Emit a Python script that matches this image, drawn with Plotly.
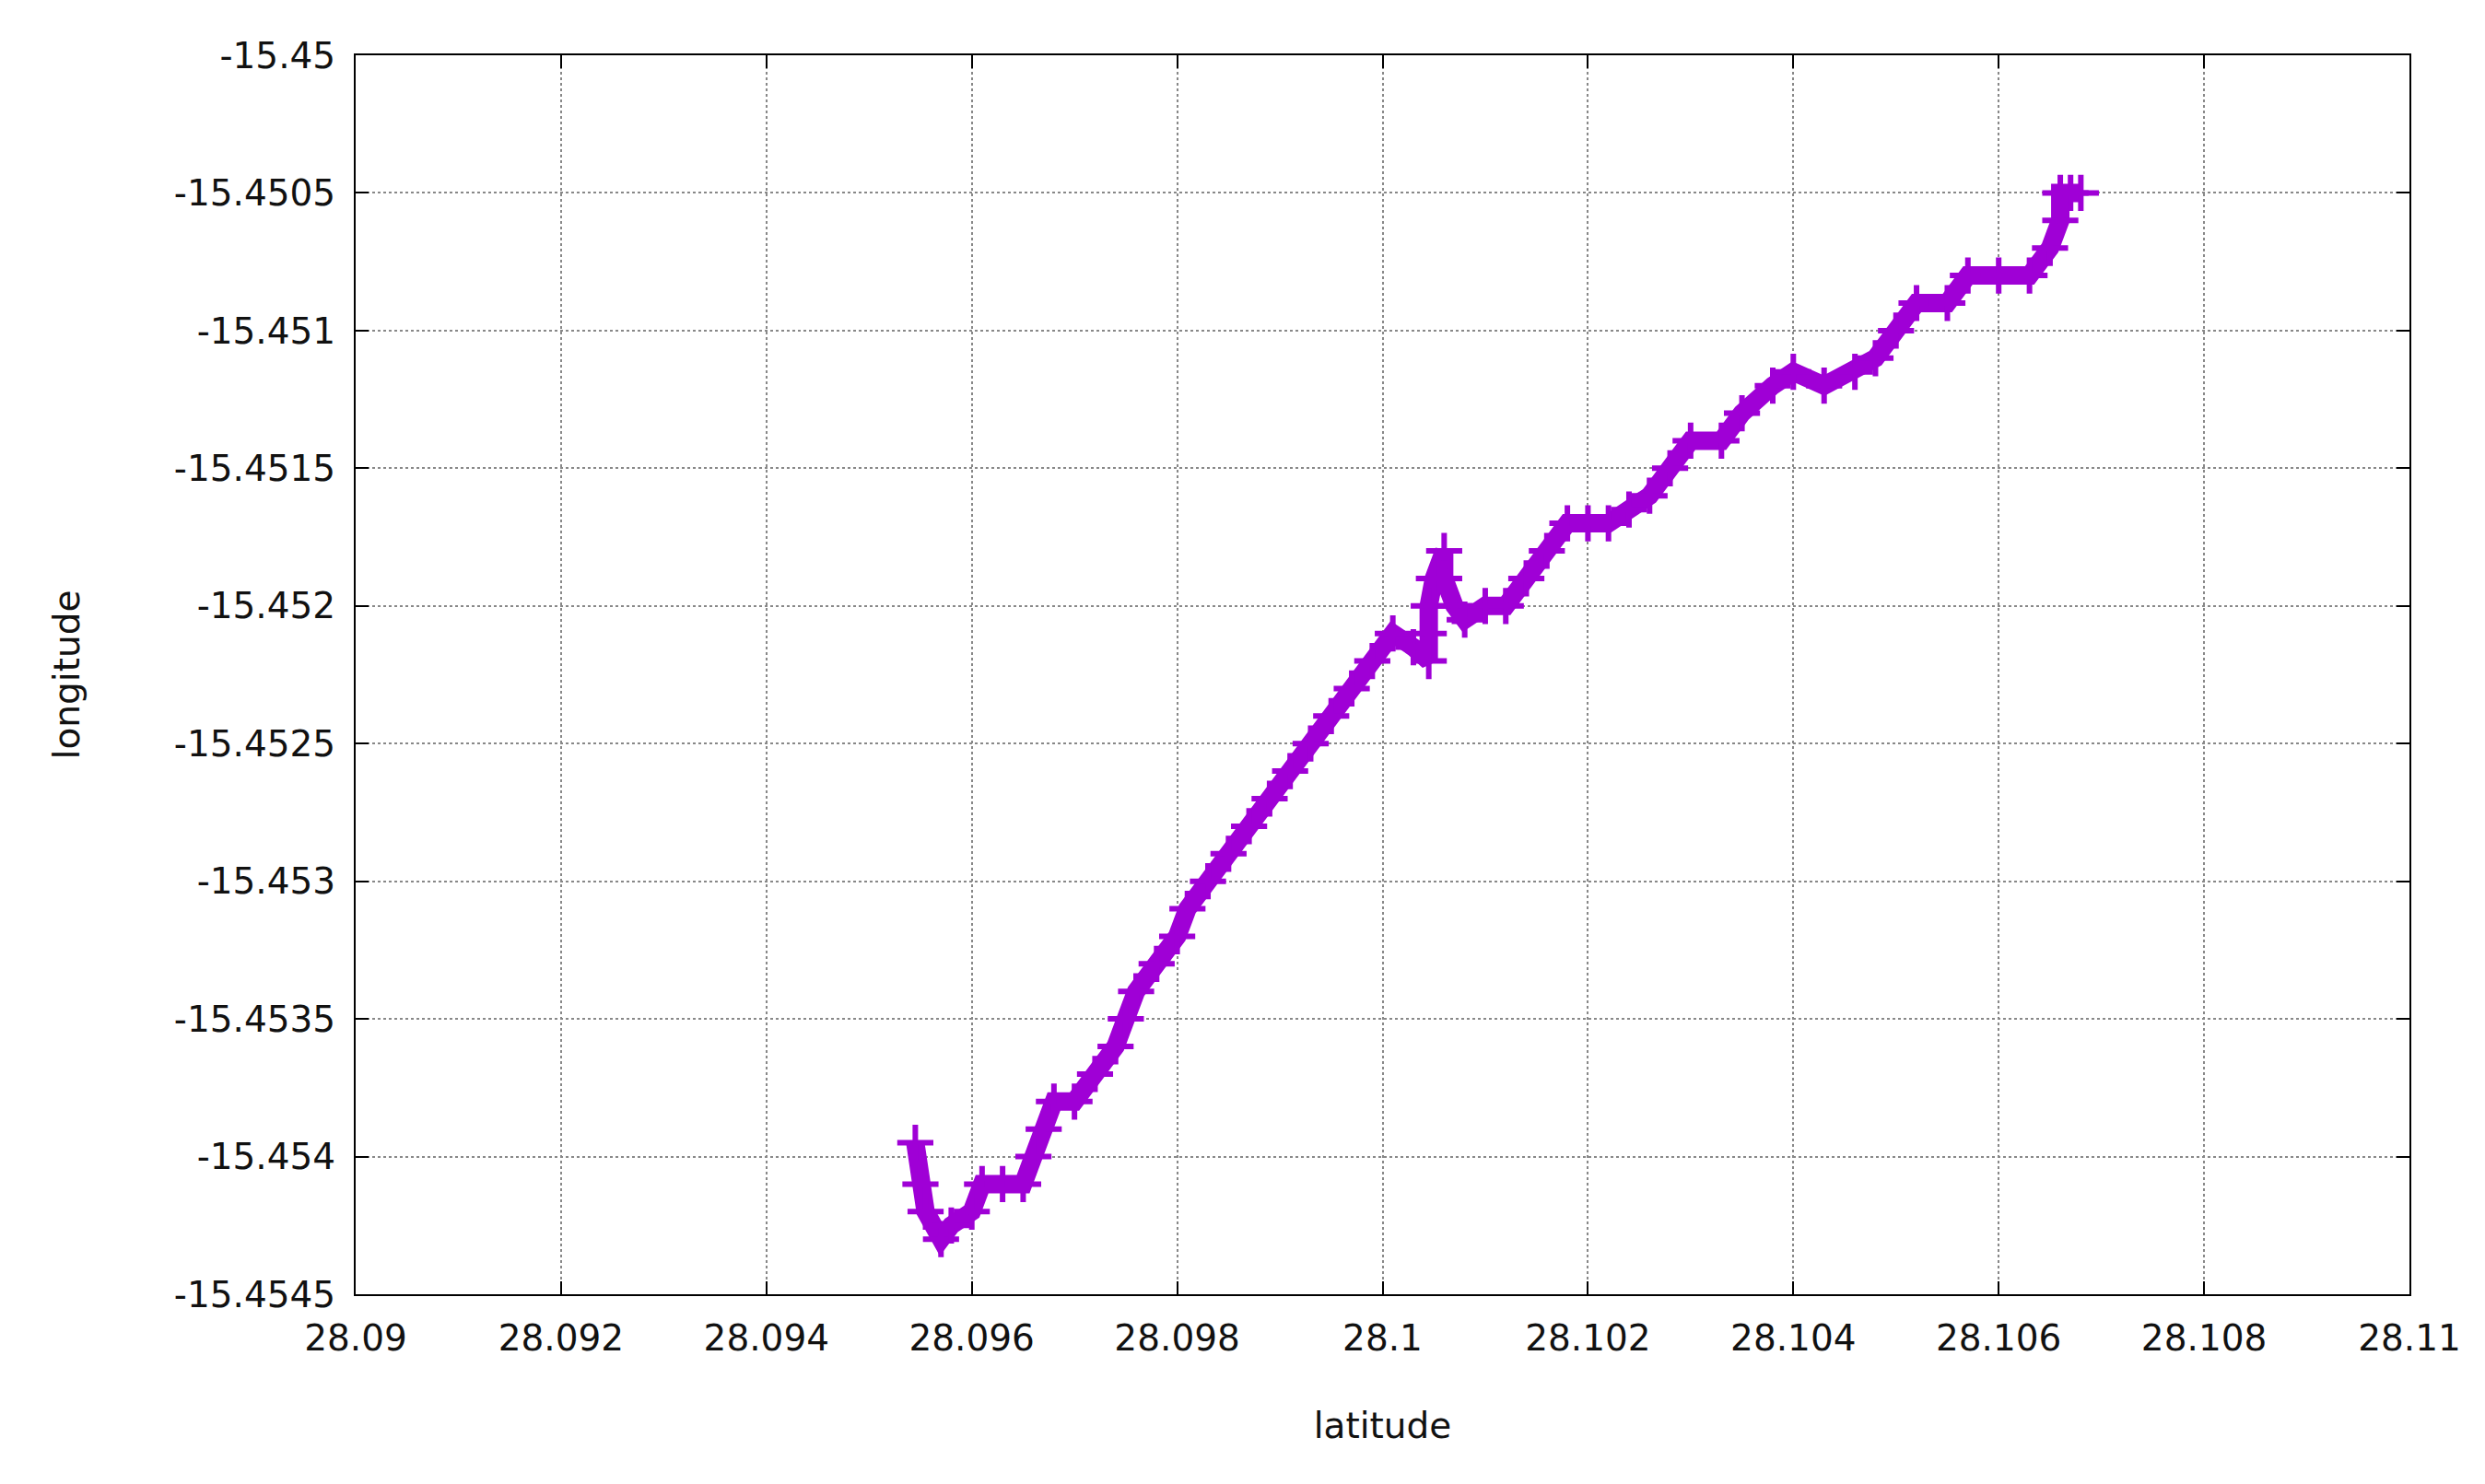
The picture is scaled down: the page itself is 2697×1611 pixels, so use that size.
import plotly.graph_objects as go

latitude = [28.09545, 28.0955, 28.09555, 28.0957, 28.0958, 28.0960, 28.0961, 28.0963,
            28.0965, 28.0966, 28.0967, 28.0968, 28.0970, 28.0972, 28.0974, 28.0975,
            28.0976, 28.0978, 28.0980, 28.0981, 28.0983, 28.0985, 28.0987, 28.0989,
            28.0991, 28.0993, 28.0995, 28.0997, 28.0999, 28.1001, 28.1003, 28.10045,
            28.10045, 28.10045, 28.1005, 28.1006, 28.1006, 28.1007, 28.1008, 28.1010,
            28.1012, 28.1014, 28.1016, 28.1018, 28.1020, 28.1022, 28.1024, 28.1026,
            28.1028, 28.1030, 28.1033, 28.1035, 28.1038, 28.1040, 28.1043, 28.1046,
            28.1048, 28.1050, 28.1052, 28.1055, 28.1057, 28.1060, 28.1063, 28.1065,
            28.1066, 28.1066, 28.1067, 28.1068]
longitude = [-15.45395, -15.4541, -15.4542, -15.4543, -15.45425, -15.4542, -15.4541, -15.4541,
             -15.4541, -15.4540, -15.4539, -15.4538, -15.4538, -15.4537, -15.4536, -15.4535,
             -15.4534, -15.4533, -15.4532, -15.4531, -15.4530, -15.4529, -15.4528, -15.4527,
             -15.4526, -15.4525, -15.4524, -15.4523, -15.4522, -15.4521, -15.45215, -15.4522,
             -15.4521, -15.4520, -15.4519, -15.4518, -15.4519, -15.4520, -15.45205, -15.4520,
             -15.4520, -15.4519, -15.4518, -15.4517, -15.4517, -15.4517, -15.45165, -15.4516,
             -15.4515, -15.4514, -15.4514, -15.4513, -15.4512, -15.45115, -15.4512, -15.45115,
             -15.4511, -15.4510, -15.4509, -15.4509, -15.4508, -15.4508, -15.4508, -15.4507,
             -15.4506, -15.4505, -15.4505, -15.4505]

xtick_vals = [28.09, 28.092, 28.094, 28.096, 28.098, 28.1, 28.102, 28.104, 28.106, 28.108, 28.11]
ytick_vals = [-15.45, -15.4505, -15.451, -15.4515, -15.452, -15.4525, -15.453, -15.4535, -15.454, -15.4545]

color = '#9f00d6'
font = dict(family='DejaVu Sans', size=39, color='#111111')

trace = go.Scatter(
    x=latitude, y=longitude, mode='lines+markers',
    line=dict(color=color, width=20),
    marker=dict(symbol='cross-thin', size=28, line=dict(color=color, width=6)),
    showlegend=False,
)

axis_common = dict(
    showgrid=True, gridcolor='#888888', griddash='dot', gridwidth=2,
    showline=True, linecolor='black', linewidth=2, mirror='ticks',
    ticks='inside', ticklen=14, tickwidth=2, tickcolor='black',
    zeroline=False, tickfont=font, automargin=False, ticklabelstandoff=12,
)

layout = go.Layout(
    width=2697, height=1611,
    paper_bgcolor='white', plot_bgcolor='white',
    margin=dict(l=378, r=90, t=52, b=214),
    xaxis=dict(range=[28.09, 28.11], tickvals=xtick_vals,
               ticktext=[f'{v:g}' for v in xtick_vals],
               title=dict(text='latitude', font=font, standoff=60), **axis_common),
    yaxis=dict(range=[-15.4545, -15.45], tickvals=ytick_vals,
               ticktext=[f'{v:g}' for v in ytick_vals],
               title=dict(text='longitude', font=font, standoff=90), **axis_common),
)

fig = go.Figure(data=[trace], layout=layout)
fig.write_html('out.html')
